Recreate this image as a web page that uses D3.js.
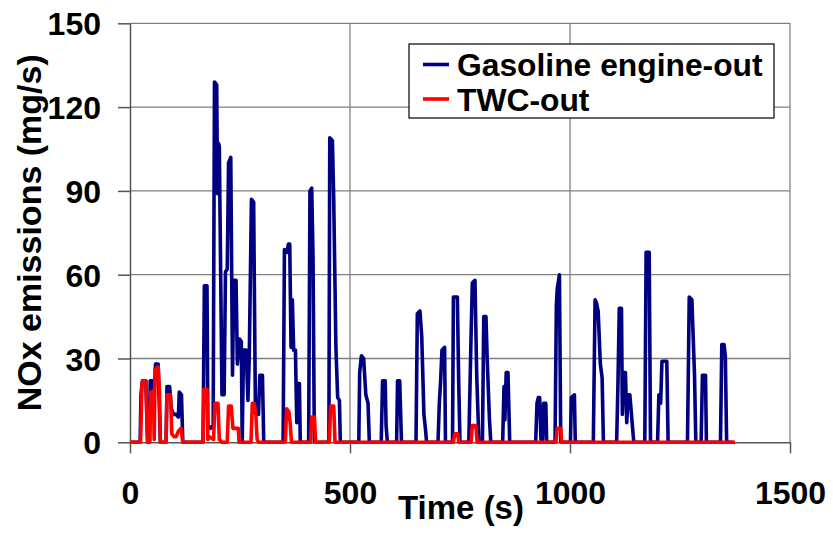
<!DOCTYPE html>
<html>
<head>
<meta charset="utf-8">
<script src="https://cdn.jsdelivr.net/npm/d3@7"></script>
<style>
  body { margin: 0; background: #fff; }
  svg { display: block; font-family: "Liberation Sans", Arial, sans-serif; font-weight: bold; }
</style>
</head>
<body>
<svg id="chart" width="833" height="534"></svg>
<script>
// ---- data (time in s, NOx in mg/s) ----
const engineTime = [0,23,25,28,36,40,44,46,53,55,58,64,69,82,84,90,94,99,105,110,112,117,120,
  166,169,175,177,183,189,192,197,199,201,203,209,214,217,221,224,229,233,236,241,244,249,253,255,258,264,268,271,276,281,285,292,295,301,304,
  348,351,357,360,363,366,369,372,376,379,381,385,387,
  406,409,413,416,419,452,454,460,463,468,472,476,478,
  520,522,526,531,536,541,544,571,574,580,582,585,606,608,613,617,
  650,653,659,663,668,672,674,700,703,706,709,715,717,
  733,735,744,747,750,770,775,778,784,788,793,801,804,809,812,817,820,
  847,850,852,855,859,863,922,925,928,931,934,938,940,945,947,
  966,969,971,976,979,1001,1003,1010,1012,
  1053,1057,1060,1064,1069,1073,1076,1106,1109,1112,1117,1119,1122,1126,1129,1132,1136,1145,
  1170,1173,1180,1183,1199,1202,1206,1209,1220,1223,
  1267,1271,1277,1283,1286,1298,1301,1308,1310,1342,1345,1350,1353,1356,1370];
const engineNOx = [0,0,17,22,22,0,0,22,22,18,28,28,0,0,20,20,12,10,10,9,18,17,0,
  0,56,56,6,5,6,129,128,89,107,106,17,17,61,62,100,102,24,58,58,28,37,36,0,33,33,15,30,87,86,12,10,24,24,0,
  0,69,68,71,71,34,51,33,33,7,21,21,0,
  0,90,91,66,0,0,109,108,87,34,16,15,0,
  0,25,31,30,17,14,0,0,22,22,6,0,0,22,22,0,
  0,46,47,38,10,4,0,0,14,22,33,34,0,
  0,52,52,22,0,0,37,57,58,24,0,0,45,45,29,8,0,
  0,20,8,25,25,0,0,14,16,16,1,1,14,14,0,
  0,49,55,60,0,0,16,17,0,
  0,51,50,47,28,23,0,0,21,48,48,10,25,25,7,17,17,0,
  0,68,68,0,0,17,14,29,29,0,
  0,52,51,24,0,0,24,24,0,0,35,35,31,0,0];

const twcTime = [0,24,27,29,36,40,45,47,53,55,57,64,67,69,82,84,92,95,100,105,110,116,120,
  166,168,175,177,180,190,193,200,203,209,221,224,230,234,246,248,275,278,282,286,289,292,
  353,356,361,364,367,410,413,419,422,453,456,463,466,
  735,738,745,747,775,778,786,789,968,971,979,981,1375];
const twcNOx = [0,0,20,22,22,0,0,18,18,1,26,27,18,0,0,17,17,3,2,2,4,5,0,
  0,19,19,1,2,1,14,14,1,0,0,13,13,5,5,0,0,14,14,10,1,0,
  0,12,11,7,0,0,9,9,0,0,13,13,0,
  0,3,3,0,0,6,6,0,0,5,5,0,0];

const xTicks = [0, 500, 1000, 1500];
const yTicks = [0, 30, 60, 90, 120, 150];
const seriesNames = ["Gasoline engine-out", "TWC-out"];
const seriesColors = ["#000080", "#FF0000"];
const xTitle = "Time (s)";
const yTitle = "NOx emissions (mg/s)";

// ---- drawing ----
const svg = d3.select("#chart");
const L = 130, R = 790, T = 23.3, B = 442.3;
const x = d3.scaleLinear().domain([0, 1500]).range([L, R]);
const y = d3.scaleLinear().domain([0, 150]).range([B, T]);

// gridlines
const grid = svg.append("g").attr("stroke", "#808080").attr("stroke-width", 1.3);
yTicks.filter(v => v > 0).forEach(v => {
  grid.append("line").attr("x1", L).attr("x2", R).attr("y1", y(v)).attr("y2", y(v));
});
xTicks.filter(v => v > 0).forEach(v => {
  grid.append("line").attr("x1", x(v)).attr("x2", x(v)).attr("y1", T).attr("y2", B);
});

// series
const line = d3.line().x(d => x(d[0])).y(d => y(d[1]));
const engine = engineTime.map((t, i) => [t, engineNOx[i]]);
const twc = twcTime.map((t, i) => [t, twcNOx[i]]);
svg.append("path").datum(engine)
  .attr("d", line).attr("fill", "none")
  .attr("stroke", seriesColors[0]).attr("stroke-width", 3.6)
  .attr("stroke-linejoin", "round");

// axes
const yAxis = svg.append("g").attr("transform", `translate(${L},0)`)
  .call(d3.axisLeft(y).tickValues(yTicks).tickFormat(d3.format("d")).tickSize(12).tickPadding(17).tickSizeOuter(0));
const xAxis = svg.append("g").attr("transform", `translate(0,${B})`)
  .call(d3.axisBottom(x).tickValues(xTicks).tickFormat(d3.format("d")).tickSize(11).tickPadding(28).tickSizeOuter(0));
[yAxis, xAxis].forEach(g => {
  g.select(".domain").attr("stroke", "#555").attr("stroke-width", 1.5);
  g.selectAll(".tick line").attr("stroke", "#555").attr("stroke-width", 1.5);
  g.selectAll(".tick text").attr("fill", "#000")
    .style("font-family", '"Liberation Sans", Arial, sans-serif')
    .style("font-weight", "bold").style("font-size", "32px");
});
yAxis.selectAll(".tick text").attr("dy", "0.36em");

// TWC-out series drawn on top (covers the zero line)
svg.append("path").datum(twc).attr("d", line).attr("fill", "none")
  .attr("stroke", seriesColors[1]).attr("stroke-width", 3.6).attr("stroke-linejoin", "round");

// axis titles
svg.append("text").attr("x", 461).attr("y", 519).attr("text-anchor", "middle")
  .style("font-size", "33px").text(xTitle);
svg.append("text").attr("transform", `translate(41,${(T + B) / 2}) rotate(-90)`)
  .attr("text-anchor", "middle").style("font-size", "34px").text(yTitle);

// legend
const lg = svg.append("g");
lg.append("rect").attr("x", 409).attr("y", 44).attr("width", 365).attr("height", 74)
  .attr("fill", "#fff").attr("stroke", "#000").attr("stroke-width", 1.2);
const rowsY = [64.5, 99];
seriesNames.forEach((n, i) => {
  lg.append("line").attr("x1", 423).attr("x2", 449).attr("y1", rowsY[i]).attr("y2", rowsY[i])
    .attr("stroke", seriesColors[i]).attr("stroke-width", 3.6);
  lg.append("text").attr("x", 457).attr("y", rowsY[i] + 11.5)
    .style("font-size", "31.8px").text(n);
});
</script>
</body>
</html>
